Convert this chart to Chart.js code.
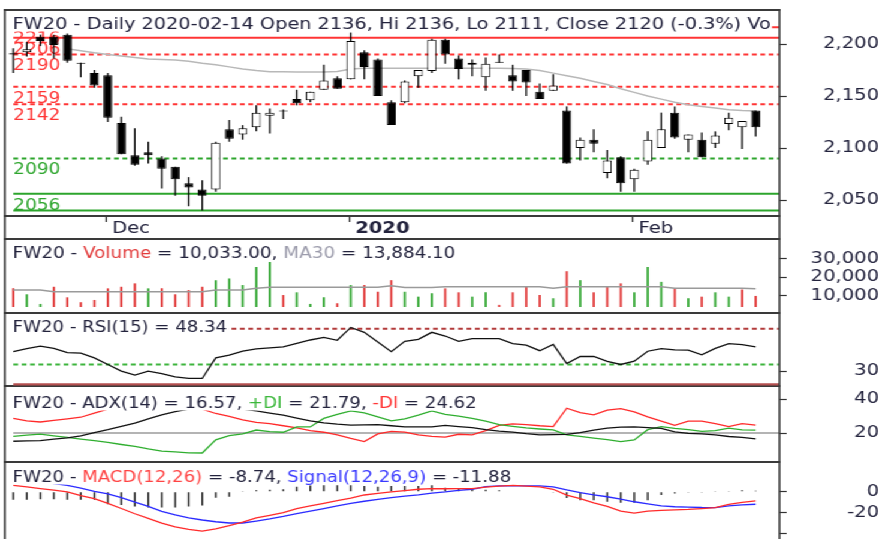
<!DOCTYPE html>
<html>
<head>
<meta charset="utf-8">
<title>FW20 daily</title>
<script src="https://cdn.jsdelivr.net/npm/chart.js@4.4.1/dist/chart.umd.min.js"></script>
<style>
  html, body { margin: 0; padding: 0; background: #fff; overflow: hidden; }
  /* drawn 733px wide, then stretched to 879px like the reference picture */
  #wrap { position: absolute; left: 0; top: 0; width: 733px; height: 539px; transform: scale(1.19918, 1); transform-origin: 0 0; }
  .pane { position: absolute; left: 0; width: 733px; }
</style>
</head>
<body>
<div id="wrap">
  <div class="pane" style="top:0;height:240px"><canvas id="price"></canvas></div>
  <div class="pane" style="top:240px;height:74px"><canvas id="volume"></canvas></div>
  <div class="pane" style="top:314px;height:73px"><canvas id="rsi"></canvas></div>
  <div class="pane" style="top:387px;height:76px"><canvas id="adx"></canvas></div>
  <div class="pane" style="top:463px;height:76px"><canvas id="macd"></canvas></div>
</div>
<script>
// ---- data ----
const dates = ['2019-11-21','2019-11-22','2019-11-25','2019-11-26','2019-11-27','2019-11-28','2019-11-29',
  '2019-12-02','2019-12-03','2019-12-04','2019-12-05','2019-12-06','2019-12-09','2019-12-10','2019-12-11','2019-12-12',
  '2019-12-13','2019-12-16','2019-12-17','2019-12-18','2019-12-19','2019-12-20','2019-12-23','2019-12-27','2019-12-30',
  '2020-01-02','2020-01-03','2020-01-07','2020-01-08','2020-01-09','2020-01-10','2020-01-13','2020-01-14','2020-01-15',
  '2020-01-16','2020-01-17','2020-01-20','2020-01-21','2020-01-22','2020-01-23','2020-01-24','2020-01-27','2020-01-28',
  '2020-01-29','2020-01-30','2020-01-31','2020-02-03','2020-02-04','2020-02-05','2020-02-06','2020-02-07','2020-02-10',
  '2020-02-11','2020-02-12','2020-02-13','2020-02-14'];

const opens  = [2191,2192,2207,2207,2209,2182,2172,2170,2124,2093,2096,2090,2082,2066,2060,2060,2118,2113,2120,2131,2135,2147,2146,2156,2167,2166,2192,2185,2144,2144,2169,2174,2204,2186,2182,2168,2182,2170,2175,2154,2155,2136,2100,2108,2076,2091,2070,2087,2100,2134,2108,2108,2104,2123,2120,2136];
const highs  = [2196,2202,2209,2209,2210,2182,2175,2172,2130,2119,2106,2092,2082,2072,2069,2106,2127,2122,2141,2138,2137,2156,2154,2180,2169,2211,2194,2186,2146,2165,2175,2205,2205,2189,2185,2187,2190,2180,2175,2162,2171,2140,2110,2118,2098,2092,2080,2116,2134,2140,2113,2115,2116,2134,2126,2136];
const lows   = [2172,2188,2198,2186,2182,2168,2158,2125,2094,2083,2085,2061,2054,2044,2040,2058,2106,2108,2116,2114,2128,2141,2144,2156,2157,2166,2166,2150,2122,2143,2158,2172,2181,2166,2169,2155,2182,2155,2150,2147,2155,2085,2088,2096,2071,2058,2058,2084,2100,2109,2096,2091,2100,2117,2099,2111];
const closes = [2190,2195,2203,2199,2184,2181,2160,2129,2094,2084,2093,2080,2070,2062,2054,2105,2109,2119,2134,2134,2136,2143,2154,2165,2157,2203,2178,2150,2122,2164,2175,2204,2190,2176,2180,2181,2183,2164,2163,2147,2160,2085,2108,2104,2088,2066,2079,2108,2118,2110,2113,2091,2112,2129,2126,2120];
const priceMA = [null,null,null,null,2195.5,2193.5,2191.5,2190,2188.5,2187,2185.5,2185,2184.5,2183.5,2181.5,2180,2178,2176,2174.5,2173.4,2173.2,2173,2173,2173,2173.5,2176,2176.6,2176.6,2176.6,2176.6,2176.6,2176.6,2176.6,2176.6,2176.6,2176.6,2176.6,2176.5,2176,2174.5,2172,2169.5,2167,2164,2161,2157,2153.5,2150,2147,2144,2141.5,2140,2138.5,2136.8,2136,2135.6];

const resistanceSolid = [2216, 2206];
const resistanceDashed = [2190, 2159, 2142];
const supportDashed = [2090];
const supportSolid = [2056, 2040];
const levelLabels = [2216, 2206, 2190, 2159, 2142, 2090, 2056];
const priceTicks = [2050, 2100, 2150, 2200];

const volumes = [14050,10900,5800,14900,9300,6700,7900,14050,14900,16700,14050,14050,10900,13150,14900,18400,19300,15800,25400,28000,10500,11950,5800,9300,6150,15800,15800,12250,18400,12250,9650,11400,14050,11950,9650,11950,5300,11950,14900,10500,8800,23150,18400,11950,14900,16700,11950,25400,17500,14050,8800,9650,11950,9650,13500,10033];
const volumeUp = [0,1,1,0,0,0,0,0,0,0, 1,0,0,0,0,1,1,1,1,1, 0,1,1,1,0,1,0,0,0,1, 1,1,0,0,1,1,0,0,0,0, 1,0,1,0,0,0,1,1,1,0, 1,0,1,1,0,0];
const volumeMA = [13150,13150,13150, 12300,12300,12300,12300,12300,12300,12300,12300,12300,12300,12300,12300,
  13150,13150,13150, 14050, 14600,14600,14600,14600,14600,14600,14600,14600,14600, 15400, 14500,14500,14500,
  14900,14900,14900,14900,14900,14900,14900,14900, 14050, 14900,14900,14900,14900,14900,14900,14900,14900,
  14050,14050,14050,14050,14050,14050, 13884.1];
const volumeTicks = [10000, 20000, 30000];

const rsi = [44.7,47,48.9,47.2,43.9,43.5,40,35,30,27,30,28,25.6,24.4,24.4,40,42,45,46.8,47.6,48.3,51,53.5,55.5,53.3,63,59.3,52,44.7,52.5,54,59.3,56.5,52.5,54.5,54.5,54.5,50.8,49.6,45.4,50.1,35.6,41,41,37.3,35,37.5,45,47,46,45.9,42.3,47.2,50.8,50,48.34];
const rsiUpper = 62, rsiLower = 35, rsiFloor = 20;
const rsiTicks = [30];

const adx     = [15.2,15.4,15.6,16.5,17.2,18.3,20.2,22,24,25.9,28.4,30.7,32.6,34,35,35.5,35,34,33,31.7,30.5,28.8,27.2,26,25.2,24.7,24.8,25,24.3,23.6,23.6,23.6,24.5,23.8,23.2,22,21.2,20.6,19.7,19,19.1,19.3,20.3,21.7,22.9,23.5,23.6,23.2,22.8,20.7,19.8,19.5,18.9,18,17.5,16.57];
const plusDI  = [18.1,18.8,19.4,18.4,17.5,16.5,15.6,14.5,13.3,12.2,10.7,9.4,9,8.4,8.3,16,18.5,19.6,21.8,20.8,20.5,23.6,23.6,28.6,31,33,31.8,29.5,27.2,28.3,30.5,33,31,30,28.6,27,25,24,23,22.4,21.9,19,18.1,17.1,16.2,15,16,22,23.8,22.8,22,21,21.5,22.9,21.9,21.79];
const minusDI = [28.6,27.2,26.5,27.4,28.3,29.3,31.7,34,36,37.5,38,38.5,38.5,37,34,31.5,29.8,27.8,26.3,25.5,24.3,23,21.5,20.5,19,16.9,15,19.5,21,20.6,18.9,18.1,17.6,19.3,19,21.5,24.5,25.4,25,24.3,23.8,34.6,32,30.7,33.5,34.3,32.5,29.5,27,24.5,27,27,25.5,23.8,25.5,24.62];
const adxLevel = 20;
const adxTicks = [20, 40];

const macd     = [6.3,4.8,3.2,1.6,0,-3.5,-6.5,-11,-16,-21,-25.5,-30,-33.5,-36,-37.7,-35.5,-32.5,-29,-25,-22.5,-20,-16,-13.5,-11,-8.5,-6,-3,-1.5,0,1.2,2.5,3.2,3,3.2,3.2,4.5,5.5,6.3,5.5,4.7,2.5,-3.1,-6.5,-10.5,-14,-18.5,-20.4,-18.5,-17.8,-17.3,-16.8,-16,-15.1,-12,-10,-8.74];
const signal   = [14,12,10,8,6.3,3.5,0.5,-2,-5.5,-9.8,-14,-18.7,-22,-25,-27,-28.7,-29.9,-29.9,-28,-26,-23.6,-20.8,-18.5,-16,-13.5,-11,-9,-7.3,-5.5,-4,-2.8,-1.2,0,1.5,2.5,5,5.7,5.7,5.7,5.7,4.7,1.8,-0.8,-2.8,-4.7,-7,-9.5,-11.5,-13.5,-14.3,-14.6,-15,-15.1,-13.5,-12.5,-11.88];
const macdHist = [-7.5,-7.5,-7,-7,-7.5,-7.5,-7.5,-12,-12.5,-14,-15,-15,-15,-14,-13,-5.7,-4.7,0.3,1.5,2,2.5,5,6,6.3,6.3,6.3,5.7,5,5.7,5.7,5.7,6.3,4,3.5,3,2,1.5,0.7,0.5,0.5,-0.5,-6,-8,-8,-9.5,-10.5,-10.5,-8,-3,-1.5,-0.7,-0.5,0.3,0.8,1.5,1];
const macdTicks = [0, -20, -40];

// ---- layout ----
const W = 733, LEFT = 4, RIGHT = 650;
const XMIN = -0.63, XMAX = 56.76;
const LABEL_R = 729.7, TEXT_X = 10.6, LABEL_X = 11.1;
const FONT = "'DejaVu Sans', Verdana, sans-serif";
const TICK_SIZE = 16.3;
const INK = '#23233d';
const RED = '#ff3434', GREEN = '#2ca52c';
const MONTHS = ['Jan','Feb','Mar','Apr','May','Jun','Jul','Aug','Sep','Oct','Nov','Dec'];

Chart.defaults.animation = false;
Chart.defaults.events = [];
Chart.defaults.font.family = FONT;
Chart.defaults.plugins.legend.display = false;
Chart.defaults.plugins.tooltip.enabled = false;
Chart.defaults.elements.point.radius = 0;

const L = dates.length - 1;
const fmtInt = v => v.toLocaleString('en-US');
const fmt2 = v => v.toLocaleString('en-US', { minimumFractionDigits: 2, maximumFractionDigits: 2 });

const monthStarts = [], monthLabels = [];
dates.forEach((d, i) => {
  const m = d.slice(5, 7);
  if (i > 0 && m !== dates[i - 1].slice(5, 7)) {
    monthStarts.push(i);
    monthLabels.push(m === '01' ? d.slice(0, 4) : MONTHS[+m - 1]);
  }
});

const pts = arr => arr.map((v, i) => ({ x: i, y: v }));
const level = (v, color, dash, width) => ({
  type: 'line', data: [{ x: 0, y: v }, { x: XMAX, y: v }],
  borderColor: color, borderWidth: width || 2, borderDash: dash || [], order: 9
});
const line = (arr, color, width, order) => ({
  type: 'line', data: pts(arr), borderColor: color, borderWidth: width, order: order
});

const measure = document.createElement('canvas').getContext('2d');
measure.font = TICK_SIZE + 'px ' + FONT;

function yAxis(min, max, ticks, fmt) {
  const widest = Math.max(...ticks.map(v => measure.measureText(fmt(v)).width));
  return {
    position: 'right', min: min, max: max,
    afterBuildTicks: s => { s.ticks = ticks.map(v => ({ value: v })); },
    afterFit: s => { s.width = W - RIGHT; s.paddingTop = 0; s.paddingBottom = 0; },
    grid: { drawOnChartArea: false, drawTicks: true, tickLength: 6, tickColor: '#333', tickWidth: 1.2 },
    border: { display: false },
    ticks: { padding: LABEL_R - RIGHT - 6 - widest, crossAlign: 'far', color: INK, font: { size: TICK_SIZE }, callback: v => fmt(v) }
  };
}
const hiddenX = () => ({ type: 'linear', min: XMIN, max: XMAX, display: false, offset: false, grid: { offset: false } });

// pane extras: titles, frame lines, level labels
const PANES = {
  price: {
    title: [[`FW20 - Daily ${dates[L]} Open ${opens[L]}, Hi ${highs[L]}, Lo ${lows[L]}, Close ${closes[L]} (${((closes[L] - closes[L - 1]) / closes[L - 1] * 100).toFixed(1)}%) Vo`, INK]],
    size: 16.1, base: 29, boxTop: 11, boxBottom: 31.5, frameTop: 9, rows: [10, 216, 239],
    levels: levelLabels.map(v => [v, v > 2100 ? RED : GREEN])
  },
  volume: {
    title: [['FW20 - ', INK], ['Volume', '#e23b3b'], [` = ${fmt2(volumes[L])}, `, INK], ['MA30', '#9c9cac'], [` = ${fmt2(volumeMA[L])}`, INK]],
    size: 15.3, base: 18.3, boxTop: 1, boxBottom: 21, frameTop: 0, rows: [73]
  },
  rsi: {
    title: [[`FW20 - RSI(15) = ${rsi[L].toFixed(2)}`, INK]],
    size: 15.1, base: 18.2, boxTop: 1, boxBottom: 21.5, frameTop: 0, rows: [72]
  },
  adx: {
    title: [[`FW20 - ADX(14) = ${adx[L].toFixed(2)}, `, INK], ['+DI', '#3cb83c'], [` = ${plusDI[L].toFixed(2)}, `, INK],
            ['-DI', RED], [` = ${minusDI[L].toFixed(2)}`, INK]],
    size: 15.1, base: 20.7, boxTop: 1, boxBottom: 23.5, frameTop: 0, rows: [75]
  },
  macd: {
    title: [['FW20 - ', INK], [`MACD(12,26)`, '#ff4444'], [` = ${macd[L].toFixed(2)}, `, INK],
            ['Signal(12,26,9)', '#3a3aff'], [` = ${signal[L].toFixed(2)}`, INK]],
    size: 15.1, base: 19.3, boxTop: 1, boxBottom: 21.5, frameTop: 0, rows: []
  }
};

const levelPlugin = {
  id: 'levelLabels',
  beforeDatasetsDraw(chart) {
    const p = PANES[chart.canvas.id];
    const c = chart.ctx, a = chart.chartArea;
    c.save();
    // pane separators go under the data, so level lines may sit on them
    c.strokeStyle = '#3a3a3a';
    c.lineWidth = 2;
    c.beginPath();
    for (const y of p.rows) { c.moveTo(a.left - 0.8, y); c.lineTo(a.right + 0.8, y); }
    c.stroke();
    if (p.levels) {
      const ys = chart.scales.y;
      c.font = '15.4px ' + FONT;
      c.textBaseline = 'alphabetic';
      for (const [v, col] of p.levels) {
        c.fillStyle = col;
        c.fillText(String(v), LABEL_X, ys.getPixelForValue(v) + 16);
      }
    }
    c.restore();
  }
};

const titlePlugin = {
  id: 'paneTitle',
  afterDatasetsDraw(chart) {
    const p = PANES[chart.canvas.id];
    const c = chart.ctx;
    c.save();
    c.font = p.size + 'px ' + FONT;
    c.textBaseline = 'alphabetic';
    let w = 0;
    for (const [t] of p.title) w += c.measureText(t).width;
    c.fillStyle = '#fff';
    c.fillRect(LEFT + 1, p.boxTop, TEXT_X + w - LEFT, p.boxBottom - p.boxTop);
    let x = TEXT_X;
    for (const [t, col] of p.title) {
      c.fillStyle = col;
      c.fillText(t, x, p.base);
      x += c.measureText(t).width;
    }
    c.restore();
  }
};

const framePlugin = {
  id: 'frame',
  afterDraw(chart) {
    const p = PANES[chart.canvas.id];
    const c = chart.ctx, a = chart.chartArea, h = chart.height;
    c.save();
    c.strokeStyle = '#3a3a3a';
    c.lineWidth = 1.6;
    c.beginPath();
    c.moveTo(a.left, p.frameTop); c.lineTo(a.left, h);
    c.moveTo(a.right, p.frameTop); c.lineTo(a.right, h);
    c.stroke();
    c.restore();
  }
};

function makeChart(id, type, datasets, scales, pad) {
  return new Chart(document.getElementById(id), {
    type: type,
    data: { datasets: datasets },
    options: {
      responsive: true, maintainAspectRatio: false, devicePixelRatio: 1,
      layout: { padding: { left: LEFT, right: 0, top: pad[0], bottom: pad[1] } },
      scales: scales
    },
    plugins: [levelPlugin, titlePlugin, framePlugin]
  });
}

// ---- price pane ----
makeChart('price', 'bar', [
  { type: 'bar', data: dates.map((d, i) => ({ x: i, y: [opens[i], closes[i]] })),
    backgroundColor: c => closes[c.dataIndex] >= opens[c.dataIndex] ? '#ffffff' : '#000000',
    borderColor: '#000', borderWidth: 1, borderSkipped: false, grouped: false, maxBarThickness: 7.5, order: 0 },
  { type: 'bar', data: dates.map((d, i) => ({ x: i, y: [lows[i], highs[i]] })),
    backgroundColor: '#000', borderWidth: 0, grouped: false, maxBarThickness: 1.25, order: 1 },
  line(priceMA, '#b8b8b8', 1.5, 2),
  ...resistanceSolid.map(v => level(v, RED)),
  ...resistanceDashed.map(v => level(v, RED, [4, 3])),
  ...supportDashed.map(v => level(v, GREEN, [4, 3])),
  ...supportSolid.map(v => level(v, GREEN))
], {
  x: {
    type: 'linear', min: XMIN, max: XMAX, offset: false,
    afterBuildTicks: s => { s.ticks = monthStarts.map(v => ({ value: v - 0.12 })); },
    afterFit: s => { s.height = 24; s.paddingLeft = 0; s.paddingRight = 0; },
    grid: { offset: false, drawOnChartArea: false, drawTicks: true, tickLength: 6, tickColor: '#222', tickWidth: 1.2 },
    border: { display: false },
    ticks: {
      autoSkip: false, maxRotation: 0, minRotation: 0, align: 'start', labelOffset: 5, padding: -3, color: INK,
      font: c => ({ size: TICK_SIZE, weight: /^\d{4}$/.test(monthLabels[c.index] || '') ? 'bold' : 'normal' }),
      callback: (v, i) => monthLabels[i]
    }
  },
  y: yAxis(2034.62, 2231.73, priceTicks, fmtInt)
}, [11, 0]);

// ---- volume pane ----
makeChart('volume', 'bar', [
  line(volumeMA, '#9a9a9a', 1.5, 0),
  { type: 'bar', data: pts(volumes), backgroundColor: c => volumeUp[c.dataIndex] ? '#2fa52f' : '#e03434',
    grouped: false, maxBarThickness: 1.8, order: 1 }
], { x: hiddenX(), y: yAxis(4164, 38647, volumeTicks, fmtInt) }, [2, 7]);

// ---- RSI pane ----
makeChart('rsi', 'line', [
  line(rsi, '#111', 1.3, 0),
  level(rsiUpper, '#b23a3a', [4, 3]),
  level(rsiLower, '#3cb43c', [4, 3]),
  level(rsiFloor, '#b45050', [], 2.2)
], { x: hiddenX(), y: yAxis(18.78, 72.33, rsiTicks, fmtInt) }, [0, 0]);

// ---- ADX pane ----
makeChart('adx', 'line', [
  line(adx, '#111', 1.3, 0),
  line(plusDI, '#2fae2f', 1.3, 1),
  line(minusDI, '#ff2a2a', 1.3, 2),
  level(adxLevel, '#b4b4b4', [], 2)
], { x: hiddenX(), y: yAxis(3.03, 46.46, adxTicks, fmtInt) }, [0, 0]);

// ---- MACD pane ----
makeChart('macd', 'bar', [
  line(macd, '#ff2a2a', 1.3, 0),
  line(signal, '#2a2aff', 1.3, 1),
  { type: 'bar', data: pts(macdHist), backgroundColor: '#222', grouped: false, maxBarThickness: 1.4, order: 2 }
], { x: hiddenX(), y: yAxis(-44.62, 27.08, macdTicks, v => v === -40 ? '' : fmtInt(v)) }, [0, 0]);
</script>
</body>
</html>
